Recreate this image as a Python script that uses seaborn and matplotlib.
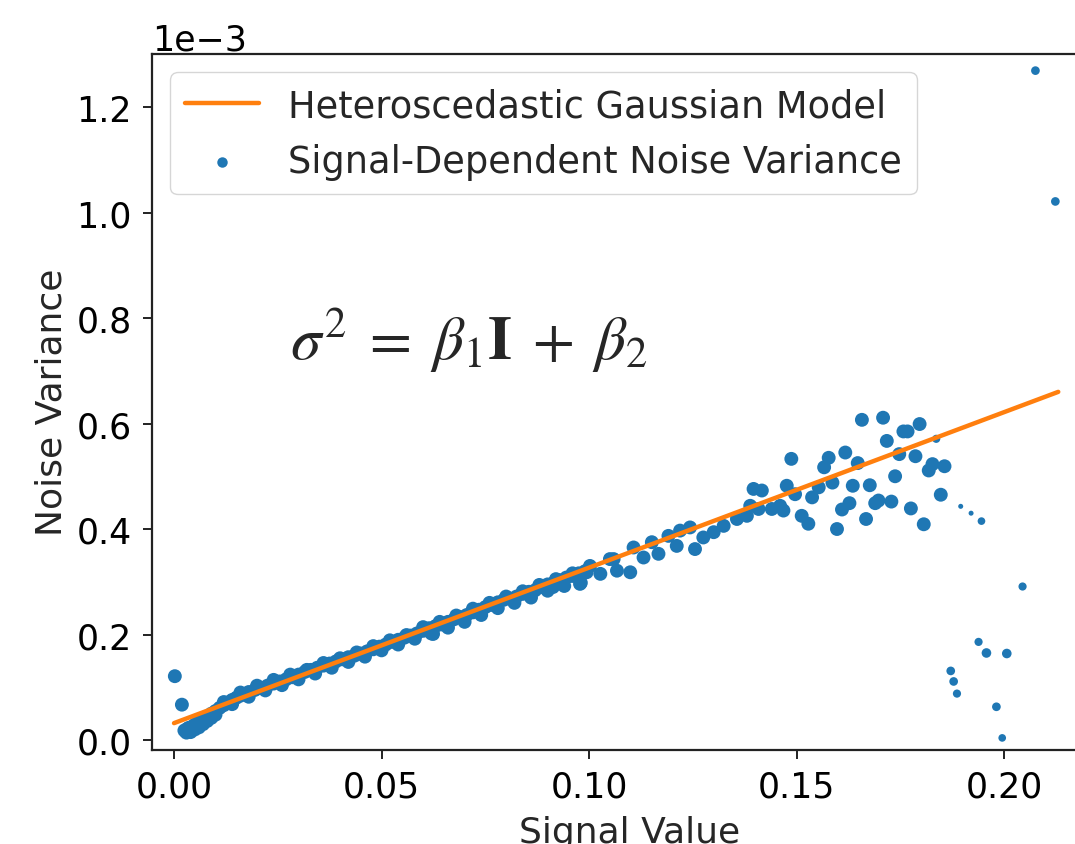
import numpy as np
import pandas as pd
import matplotlib
matplotlib.use("Agg")
import matplotlib.pyplot as plt
import seaborn as sns

# Fitted heteroscedastic model (variance in units of 1e-3)
model_x = [0.0, 0.213]
model_y = [0.032, 0.660]

# Dense band of measured variance (low / mid signal)
band_x = [0.0025, 0.0030, 0.0035, 0.0040, 0.0045, 0.0050, 0.0055, 0.0060, 0.0065, 0.0070,
          0.0080, 0.0090, 0.0100, 0.0110, 0.0120, 0.0130, 0.0140, 0.0150, 0.0160, 0.0170,
          0.0180, 0.0195, 0.0210, 0.0225, 0.0240, 0.0255, 0.0270, 0.0285, 0.0300, 0.0315,
          0.0330, 0.0345, 0.0360, 0.0375, 0.0390, 0.0405, 0.0420, 0.0435, 0.0450, 0.0465,
          0.0480, 0.0495, 0.0510, 0.0525, 0.0540, 0.0555, 0.0570, 0.0585, 0.0600, 0.0615,
          0.0630, 0.0645, 0.0660, 0.0675, 0.0690, 0.0705, 0.0720, 0.0735, 0.0750, 0.0765,
          0.0780, 0.0795, 0.0810, 0.0825, 0.0840, 0.0855, 0.0870, 0.0885, 0.0900, 0.0915,
          0.0930, 0.0945, 0.0960, 0.0975, 0.0990,
          0.0030, 0.0040, 0.0050, 0.0060, 0.0070, 0.0080, 0.0090, 0.0100,
          0.012, 0.016, 0.020, 0.024, 0.028, 0.032, 0.036, 0.040, 0.044, 0.048,
          0.052, 0.056, 0.060, 0.064, 0.068, 0.072, 0.076, 0.080, 0.084, 0.088,
          0.092, 0.096,
          0.014, 0.018, 0.022, 0.026, 0.030, 0.034, 0.038, 0.042, 0.046, 0.050,
          0.054, 0.058, 0.062, 0.066, 0.070, 0.074, 0.078, 0.082, 0.086, 0.090,
          0.094, 0.098, 0.0978, 0.0913, 0.0624]
band_y = [0.018, 0.020, 0.023, 0.021, 0.026, 0.029, 0.031, 0.034, 0.037, 0.040,
          0.045, 0.050, 0.055, 0.061, 0.066, 0.071, 0.076, 0.080, 0.084, 0.087,
          0.091, 0.095, 0.099, 0.103, 0.107, 0.111, 0.115, 0.119, 0.124, 0.129,
          0.133, 0.137, 0.141, 0.145, 0.149, 0.153, 0.157, 0.160, 0.164, 0.168,
          0.172, 0.177, 0.181, 0.186, 0.190, 0.194, 0.198, 0.202, 0.207, 0.212,
          0.216, 0.219, 0.224, 0.229, 0.233, 0.237, 0.242, 0.247, 0.252, 0.256,
          0.261, 0.266, 0.268, 0.272, 0.277, 0.281, 0.284, 0.290, 0.295, 0.298,
          0.303, 0.308, 0.311, 0.316, 0.320,
          0.014, 0.015, 0.020, 0.024, 0.030, 0.036, 0.042, 0.048,
          0.072, 0.090, 0.103, 0.114, 0.124, 0.133, 0.146, 0.155, 0.166, 0.178,
          0.189, 0.199, 0.214, 0.224, 0.236, 0.249, 0.260, 0.272, 0.282, 0.294,
          0.305, 0.316,
          0.068, 0.082, 0.094, 0.104, 0.115, 0.126, 0.137, 0.148, 0.158, 0.170,
          0.181, 0.192, 0.202, 0.213, 0.224, 0.237, 0.250, 0.260, 0.270, 0.283,
          0.292, 0.298, 0.296, 0.290, 0.201]

# Scattered points at higher signal, with bin weight (3 dense .. 1 sparse)
spread_x = [0.0002, 0.0019,
            0.0994, 0.1002, 0.1027, 0.1050, 0.1059, 0.1067, 0.1099, 0.1107, 0.1131, 0.1151,
            0.1167, 0.1191, 0.1211, 0.1219, 0.1243, 0.1255, 0.1275, 0.1300, 0.1324, 0.1356,
            0.1380, 0.1388, 0.1396, 0.1416, 0.1408, 0.1440, 0.1460, 0.1468, 0.1476, 0.1487,
            0.1496, 0.1512, 0.1528, 0.1537, 0.1553, 0.1566, 0.1577, 0.1586, 0.1597, 0.1609,
            0.1617, 0.1627, 0.1635, 0.1647, 0.1657, 0.1667, 0.1676, 0.1689, 0.1697, 0.1708,
            0.1717, 0.1728, 0.1737, 0.1747, 0.1757, 0.1767, 0.1775, 0.1786, 0.1796, 0.1806,
            0.1818, 0.1827, 0.1836, 0.1847, 0.1856,
            0.1895, 0.1920, 0.1945,
            0.2075, 0.2123, 0.2044, 0.1938, 0.1957, 0.2006, 0.1871, 0.1878, 0.1886, 0.1981,
            0.1995]
spread_y = [0.121, 0.067,
            0.318, 0.330, 0.315, 0.343, 0.343, 0.321, 0.318, 0.365, 0.346, 0.375,
            0.353, 0.387, 0.368, 0.397, 0.403, 0.362, 0.384, 0.394, 0.406, 0.419,
            0.425, 0.444, 0.476, 0.473, 0.438, 0.438, 0.444, 0.435, 0.482, 0.533,
            0.466, 0.425, 0.410, 0.460, 0.479, 0.517, 0.535, 0.488, 0.400, 0.437,
            0.545, 0.449, 0.482, 0.525, 0.607, 0.419, 0.483, 0.449, 0.454, 0.611,
            0.567, 0.452, 0.500, 0.542, 0.585, 0.585, 0.439, 0.538, 0.599, 0.409,
            0.511, 0.523, 0.571, 0.465, 0.519,
            0.443, 0.430, 0.415,
            1.269, 1.021, 0.291, 0.186, 0.165, 0.164, 0.131, 0.111, 0.088, 0.063,
            0.004]
spread_w = [3, 3,
            3, 3, 3, 3, 3, 3, 3, 3, 3, 3,
            3, 3, 3, 3, 3, 3, 3, 3, 3, 3,
            3, 3, 3, 3, 3, 3, 3, 3, 3, 3,
            3, 3, 3, 3, 3, 3, 3, 3, 3, 3,
            3, 3, 3, 3, 3, 3, 3, 3, 3, 3,
            3, 3, 3, 3, 3, 3, 3, 3, 3, 3,
            3, 3, 1.5, 3, 3,
            1, 1, 1.4,
            1.6, 1.6, 1.5, 1.5, 1.8, 1.8, 1.6, 1.6, 1.5, 1.6,
            1.4]

df = pd.DataFrame({
    'signal': band_x + spread_x,
    'variance': np.array(band_y + spread_y) * 1e-3,
    'weight': [3] * len(band_x) + spread_w,
})

sns.set_style('ticks')
plt.rcParams['font.family'] = ['DejaVu Sans']

fig = plt.figure(figsize=(10.75, 8.45), dpi=100)
ax = fig.add_axes([0.1414, 0.1117, 0.8886, 0.8232])

sns.lineplot(x=model_x, y=np.array(model_y) * 1e-3, color='#ff7f0e', linewidth=3.2,
             label='Heteroscedastic Gaussian Model', ax=ax)
sns.scatterplot(data=df, x='signal', y='variance', size='weight', sizes=(13, 100),
                size_norm=(1, 3), color='#1f77b4', linewidth=0, legend=False,
                label='Signal-Dependent Noise Variance', ax=ax)

ax.set_xlim(-0.0053, 0.2248)
ax.set_ylim(-0.0182e-3, 1.3005e-3)
ax.set_xticks([0.0, 0.05, 0.10, 0.15, 0.20])
ax.set_yticks(np.array([0.0, 0.2, 0.4, 0.6, 0.8, 1.0, 1.2]) * 1e-3)
ax.ticklabel_format(axis='y', style='sci', scilimits=(-3, -3))
ax.yaxis.get_offset_text().set_fontsize(25)

for side in ax.spines.values():
    side.set_linewidth(1.6)
    side.set_color('#222222')
ax.spines['right'].set_visible(False)  # cut off in the original figure
ax.tick_params(labelsize=25, length=6.5, width=1.4, pad=8, colors='#222222', labelcolor='black')

ax.set_xlabel('Signal Value', fontsize=26, labelpad=8)
ax.set_ylabel('Noise Variance', fontsize=26, labelpad=6)

ax.text(0.0280, 0.722e-3, r'$\sigma^2 \;=\; \beta_1\mathbf{I} \;+\; \beta_2$',
        fontsize=44, math_fontfamily='stix', ha='left', va='baseline')

handles, labels = ax.get_legend_handles_labels()
ax.legend(handles, labels, loc='upper left', fontsize=26.5, frameon=True, framealpha=0.8,
          edgecolor='0.8', fancybox=True)

fig.savefig('out.png', dpi=100)
